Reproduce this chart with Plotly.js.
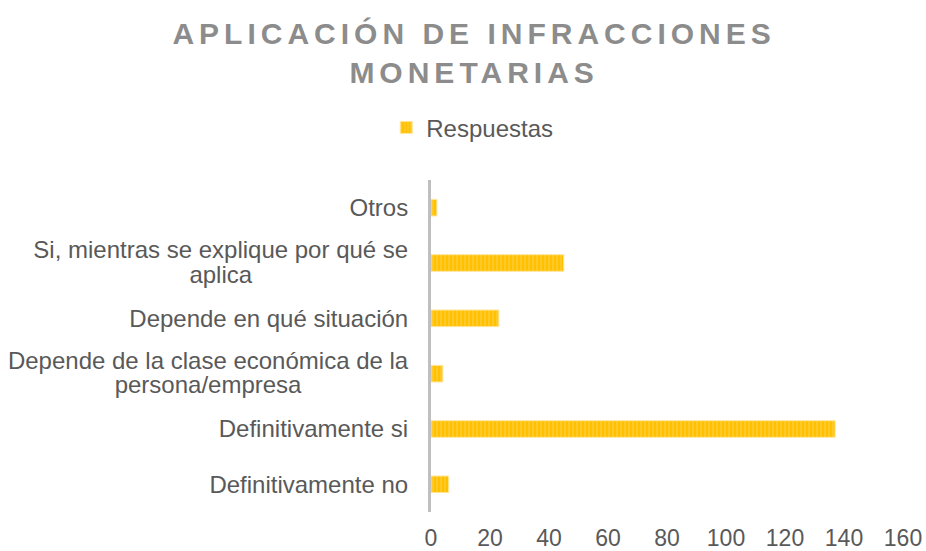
<!DOCTYPE html>
<html>
<head>
<meta charset="utf-8">
<script src="https://cdn.plot.ly/plotly-3.0.1.min.js"></script>
<style>
html,body{margin:0;padding:0;background:#fff;}
.gtitle{letter-spacing:5px;}
</style>
</head>
<body>
<div id="chart" style="width:926px;height:551px;"></div>
<script>
const categories = [
  "Definitivamente no",
  "Definitivamente si",
  "Depende de la clase económica de la<br>persona/empresa",
  "Depende en qué situación",
  "Si, mientras se explique por qué se<br>aplica",
  "Otros"
];
const respuestas = [6, 137, 4, 23, 45, 2];
const xTicks = [0, 20, 40, 60, 80, 100, 120, 140, 160];

const trace = {
  type: 'bar',
  orientation: 'h',
  name: 'Respuestas',
  y: categories,
  x: respuestas,
  width: 0.3,
  marker: {
    color: '#FFC000',
    line: {color: '#FFE699', width: 1},
    pattern: {shape: '|', fgcolor: '#FFD966', bgcolor: '#FFC000', size: 4, solidity: 0.4, fillmode: 'overlay'}
  },
  hoverinfo: 'x+y'
};

const layout = {
  width: 926, height: 551,
  paper_bgcolor: '#fff', plot_bgcolor: '#fff',
  font: {family: 'Liberation Sans, Arial, sans-serif', color: '#595959', size: 24},
  title: {
    text: 'APLICACIÓN DE INFRACCIONES<br>MONETARIAS',
    font: {family: 'Liberation Sans, Arial, sans-serif', size: 30, color: '#8C8C8C', weight: 'bold'},
    x: 0.512, xanchor: 'center', xref: 'container',
    y: 0.92, yanchor: 'top', yref: 'container'
  },
  showlegend: true,
  legend: {
    orientation: 'h', xref: 'container', yref: 'container',
    x: 0.51, xanchor: 'center', y: 0.768, yanchor: 'middle',
    font: {size: 24, color: '#595959'}, itemwidth: 30
  },
  margin: {l: 431, r: 23, t: 180, b: 39, autoexpand: false},
  bargap: 0.7,
  xaxis: {
    range: [0, 160], tickvals: xTicks, ticktext: xTicks.map(String),
    showgrid: false, zeroline: false, showline: false, ticks: '',
    ticklabelstandoff: 10, tickfont: {size: 23, color: '#595959'}
  },
  yaxis: {
    type: 'category', categoryorder: 'array', categoryarray: categories,
    showgrid: false, zeroline: false, showline: true, linecolor: '#BFBFBF', linewidth: 3,
    ticks: '', ticklabelstandoff: 15, tickfont: {size: 24, color: '#595959'},
    automargin: false
  }
};

Plotly.newPlot('chart', [trace], layout, {displayModeBar: false, staticPlot: true}).then(function (gd) {
  // Excel-like two-line category labels: tighter spacing, lines centred on each other
  const fs = 24, newEm = 1.12;
  gd.querySelectorAll('.ytick text').forEach(function (t) {
    const lines = t.querySelectorAll('tspan.line');
    if (lines.length !== 2) return;
    const d1 = lines[1].getAttribute('dy') || '';
    if (!/em$/.test(d1)) return;
    const oldEm = parseFloat(d1);
    const shift = (oldEm - newEm) * fs / 2;
    lines[1].setAttribute('dy', newEm + 'em');
    const d0 = lines[0].getAttribute('dy') || '0em';
    const d0px = /em$/.test(d0) ? parseFloat(d0) * fs : parseFloat(d0) || 0;
    lines[0].setAttribute('dy', (d0px + shift) + 'px');
    // centre alignment
    const x0 = parseFloat(t.getAttribute('x')) || 0;
    const w = Math.max(lines[0].getComputedTextLength(), lines[1].getComputedTextLength());
    const xc = x0 - w / 2;
    t.setAttribute('text-anchor', 'middle');
    t.style.textAnchor = 'middle';
    t.setAttribute('x', xc);
    lines.forEach(function (l) { l.setAttribute('x', xc); });
  });
});
</script>
</body>
</html>
